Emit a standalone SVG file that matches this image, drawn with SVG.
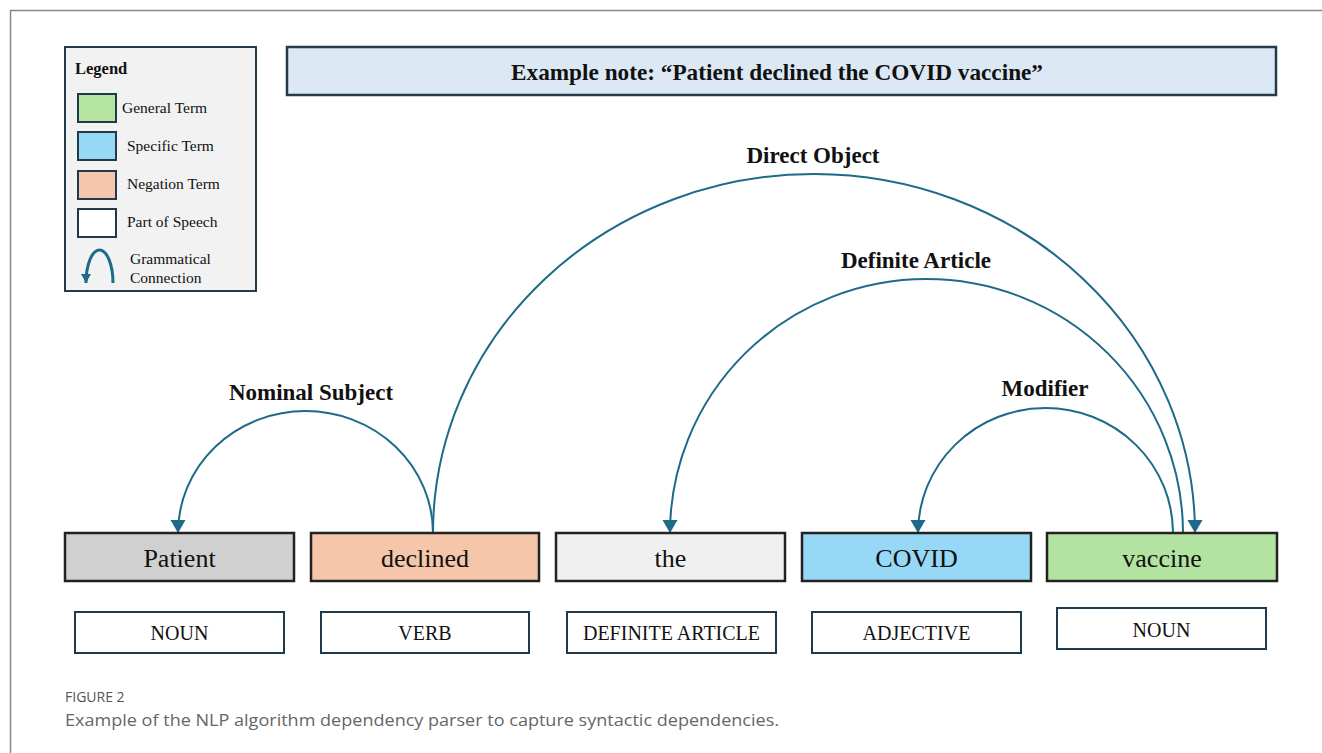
<svg xmlns="http://www.w3.org/2000/svg" width="1322" height="753" viewBox="0 0 1322 753">
<defs>
<marker id="arr" markerUnits="userSpaceOnUse" markerWidth="14" markerHeight="16" refX="13" refY="7.5" orient="auto" viewBox="0 0 14 16">
<path d="M0,0 L13,7.5 L0,15 z" fill="#1d6a8a"/>
</marker>
<marker id="arrS" markerUnits="userSpaceOnUse" markerWidth="10" markerHeight="11" refX="9" refY="5" orient="auto" viewBox="0 0 10 11">
<path d="M0,0 L9,5 L0,10 z" fill="#1d6a8a"/>
</marker>
<style>
.serif{font-family:"Liberation Serif","Times New Roman",serif;fill:#111}
.lbl{font-family:"Liberation Serif","Times New Roman",serif;font-weight:bold;font-size:23px;fill:#111;text-anchor:middle}
.tok{stroke:#222;stroke-width:2.5}
.tokt{font-family:"Liberation Serif","Times New Roman",serif;font-size:26px;fill:#111;text-anchor:middle}
.pos{fill:#fff;stroke:#1f3a4a;stroke-width:2}
.post{font-family:"Liberation Serif","Times New Roman",serif;font-size:20px;fill:#111;text-anchor:middle}
.leg{font-family:"Liberation Serif","Times New Roman",serif;font-size:15.5px;fill:#111}
.sw{stroke:#1f3a4a;stroke-width:2}
.arc{fill:none;stroke:#1d6a8a;stroke-width:2;marker-end:url(#arr)}
.cap{font-family:"Open Sans","Noto Sans",sans-serif}
</style>
</defs>
<rect width="1322" height="753" fill="#fff"/>
<path d="M10.5,753 V10.5 H1322" fill="none" stroke="#888" stroke-width="1.5"/>

<g id="legend">
<rect x="65" y="47" width="191" height="244" fill="#f2f2f2" stroke="#243b4a" stroke-width="2"/>
<text x="75" y="74" class="serif" font-weight="bold" font-size="16.5">Legend</text>
<rect x="78" y="94" width="38" height="28" fill="#b5e3a0" class="sw"/>
<text x="122" y="113" class="leg">General Term</text>
<rect x="78" y="132" width="38" height="28" fill="#96d8f5" class="sw"/>
<text x="127" y="151" class="leg">Specific Term</text>
<rect x="78" y="171" width="38" height="28" fill="#f5c6ab" class="sw"/>
<text x="127" y="189" class="leg">Negation Term</text>
<rect x="78" y="209" width="38" height="28" fill="#ffffff" class="sw"/>
<text x="127" y="227" class="leg">Part of Speech</text>
<path d="M113,283 A13.5,33 0 0 0 86,283" fill="none" stroke="#1d6a8a" stroke-width="3" marker-end="url(#arrS)"/>
<text x="130" y="264" class="leg">Grammatical</text>
<text x="130" y="283" class="leg">Connection</text>
</g>

<g id="title">
<rect x="287" y="47" width="989" height="48" fill="#dce9f5" stroke="#243b4a" stroke-width="2.5"/>
<text x="777" y="80" class="serif" font-weight="bold" font-size="23" text-anchor="middle" textLength="532" lengthAdjust="spacingAndGlyphs">Example note: “Patient declined the COVID vaccine”</text>
</g>

<g id="connectors">
<path id="nsubj" class="arc" d="M433,533 A127.5,122 0 0 0 178,533"/>
<path id="dobj" class="arc" d="M433,533 A381,359 0 0 1 1195,533"/>
<path id="det" class="arc" d="M1183,533 A256.5,254 0 0 0 670,533"/>
<path id="amod" class="arc" d="M1173,533 A127.5,125 0 0 0 918,533"/>
<text x="311" y="400" class="lbl">Nominal Subject</text>
<text x="813" y="163" class="lbl">Direct Object</text>
<text x="916" y="268" class="lbl">Definite Article</text>
<text x="1045" y="396" class="lbl">Modifier</text>
</g>

<g id="tok-patient">
<rect x="65" y="533" width="229" height="48" fill="#d0d0d0" class="tok"/>
<text x="179.5" y="567" class="tokt">Patient</text>
</g>
<g id="tok-declined">
<rect x="311" y="533" width="228" height="48" fill="#f5c6aa" class="tok"/>
<text x="425" y="567" class="tokt">declined</text>
</g>
<g id="tok-the">
<rect x="556" y="533" width="229" height="48" fill="#f0f0f0" class="tok"/>
<text x="670.5" y="567" class="tokt">the</text>
</g>
<g id="tok-covid">
<rect x="802" y="533" width="229" height="48" fill="#96d8f5" class="tok"/>
<text x="916.5" y="567" class="tokt">COVID</text>
</g>
<g id="tok-vaccine">
<rect x="1047" y="533" width="230" height="48" fill="#b3e3a0" class="tok"/>
<text x="1162" y="567" class="tokt">vaccine</text>
</g>

<g id="pos-noun1">
<rect x="75" y="612" width="209" height="41" class="pos"/>
<text x="179.5" y="640" class="post">NOUN</text>
</g>
<g id="pos-verb">
<rect x="321" y="612" width="208" height="41" class="pos"/>
<text x="425" y="640" class="post">VERB</text>
</g>
<g id="pos-det">
<rect x="567" y="612" width="209" height="41" class="pos"/>
<text x="671.5" y="640" class="post">DEFINITE ARTICLE</text>
</g>
<g id="pos-adj">
<rect x="812" y="612" width="209" height="41" class="pos"/>
<text x="916.5" y="640" class="post">ADJECTIVE</text>
</g>
<g id="pos-noun2">
<rect x="1057" y="608" width="209" height="41" class="pos"/>
<text x="1161.5" y="637" class="post">NOUN</text>
</g>

<g id="caption">
<text x="65" y="702" class="cap" font-size="14" fill="#555">FIGURE 2</text>
<text x="65" y="726" class="cap" font-size="17" fill="#666" textLength="714" lengthAdjust="spacingAndGlyphs">Example of the NLP algorithm dependency parser to capture syntactic dependencies.</text>
</g>
</svg>
